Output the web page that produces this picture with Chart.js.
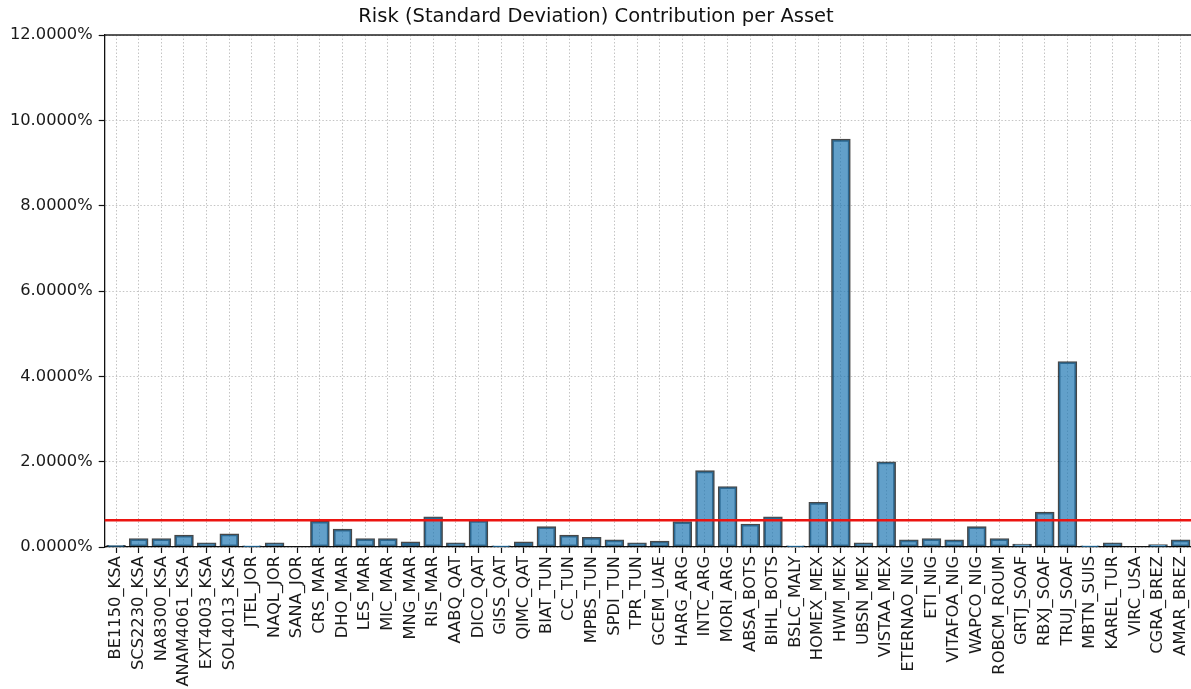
<!DOCTYPE html>
<html>
<head>
<meta charset="utf-8">
<title>Risk Contribution per Asset</title>
<script src="https://cdn.jsdelivr.net/npm/chart.js@4/dist/chart.umd.min.js"></script>
<style>
  html, body { margin: 0; padding: 0; background: #ffffff; overflow: hidden; }
  #wrap { position: relative; width: 1192px; height: 689px; }
</style>
</head>
<body>
<div id="wrap"><canvas id="chart" width="1192" height="689"></canvas></div>
<script>
// Assets in portfolio order
const assets = [
  'BE1150_KSA', 'SCS2230_KSA', 'NA8300_KSA', 'ANAM4061_KSA', 'EXT4003_KSA', 'SOL4013_KSA',
  'JTEL_JOR', 'NAQL_JOR', 'SANA_JOR',
  'CRS_MAR', 'DHO_MAR', 'LES_MAR', 'MIC_MAR', 'MNG_MAR', 'RIS_MAR',
  'AABQ_QAT', 'DICO_QAT', 'GISS_QAT', 'QIMC_QAT',
  'BIAT_TUN', 'CC_TUN', 'MPBS_TUN', 'SPDI_TUN', 'TPR_TUN',
  'GCEM_UAE', 'HARG_ARG', 'INTC_ARG', 'MORI_ARG',
  'ABSA_BOTS', 'BIHL_BOTS', 'BSLC_MALY',
  'HOMEX_MEX', 'HWM_MEX', 'UBSN_MEX', 'VISTAA_MEX',
  'ETERNAO_NIG', 'ETI_NIG', 'VITAFOA_NIG', 'WAPCO_NIG',
  'ROBCM_ROUM', 'GRTJ_SOAF', 'RBXJ_SOAF', 'TRUJ_SOAF',
  'MBTN_SUIS', 'KAREL_TUR', 'VIRC_USA', 'CGRA_BREZ', 'AMAR_BREZ'
];

// Contribution of each asset to portfolio standard deviation, in percent
const riskContribution = [
  0.03, 0.19, 0.19, 0.27, 0.09, 0.30,
  0.02, 0.09, 0.00,
  0.60, 0.41, 0.19, 0.19, 0.11, 0.70,
  0.09, 0.62, 0.02, 0.11,
  0.47, 0.27, 0.22, 0.16, 0.09,
  0.13, 0.59, 1.78, 1.41,
  0.53, 0.70, 0.02,
  1.04, 9.55, 0.09, 1.99,
  0.16, 0.19, 0.16, 0.47,
  0.19, 0.06, 0.81, 4.34,
  0.02, 0.09, 0.00, 0.05, 0.16
];

// Equal-risk reference level, in percent
const equalRiskLevel = 0.625;

// Y axis tick values, in percent
const yTickValues = [0, 2, 4, 6, 8, 10, 12];

Chart.defaults.font.family = "'DejaVu Sans', sans-serif";
Chart.defaults.color = '#1a1a1a';

// Horizontal reference line across the full plot width
const referenceLine = {
  id: 'referenceLine',
  afterDatasetsDraw(chart) {
    const { ctx, chartArea, scales } = chart;
    const y = scales.y.getPixelForValue(equalRiskLevel);
    ctx.save();
    ctx.beginPath();
    ctx.moveTo(chartArea.left, y);
    ctx.lineTo(chartArea.right, y);
    ctx.lineWidth = 2.5;
    ctx.strokeStyle = '#ec1410';
    ctx.stroke();
    ctx.restore();
  }
};

// Top frame line of the axes box
const topFrame = {
  id: 'topFrame',
  afterDraw(chart) {
    const { ctx, chartArea } = chart;
    ctx.save();
    ctx.beginPath();
    ctx.moveTo(chartArea.left, chartArea.top);
    ctx.lineTo(chartArea.right, chartArea.top);
    ctx.lineWidth = 1.3;
    ctx.strokeStyle = '#222';
    ctx.stroke();
    ctx.restore();
  }
};

new Chart(document.getElementById('chart'), {
  type: 'bar',
  data: {
    labels: assets,
    datasets: [{
      label: 'Risk contribution',
      data: riskContribution,
      backgroundColor: 'rgba(31, 119, 180, 0.7)',
      borderColor: 'rgba(0, 0, 0, 0.72)',
      borderWidth: 1.4,
      borderSkipped: false,
      inflateAmount: 0.7,
      barPercentage: 0.8,
      categoryPercentage: 1.0
    }]
  },
  options: {
    responsive: false,
    animation: false,
    layout: { padding: 0 },
    plugins: {
      legend: { display: false },
      tooltip: { enabled: false },
      title: {
        display: true,
        text: 'Risk (Standard Deviation) Contribution per Asset',
        color: '#111',
        font: { size: 19.5, weight: 'normal' },
        padding: { top: 5, bottom: 6.6 }
      }
    },
    scales: {
      x: {
        offset: true,
        grid: {
          offset: false,
          color: '#c4c4c4',
          lineWidth: 1,
          tickColor: '#111',
          tickLength: 6,
          tickWidth: 1.2
        },
        border: { color: '#111', width: 1.3, dash: [1.5, 2] },
        ticks: {
          autoSkip: false,
          minRotation: 90,
          maxRotation: 90,
          padding: 3,
          color: '#1a1a1a',
          font: { size: 16.3 }
        },
        afterFit(scale) {
          scale.height = 142;
          scale.paddingLeft = 0;
          scale.paddingRight = 0;
        }
      },
      y: {
        min: 0,
        max: 12,
        afterBuildTicks(scale) {
          scale.ticks = yTickValues.map(v => ({ value: v }));
        },
        grid: {
          color: '#c4c4c4',
          lineWidth: 1,
          tickColor: '#111',
          tickLength: 6,
          tickWidth: 1.2
        },
        border: { color: '#111', width: 1.3, dash: [1.5, 2] },
        ticks: {
          padding: 6,
          color: '#1a1a1a',
          font: { size: 16.3 },
          callback: v => Number(v).toFixed(4) + '%'
        },
        afterFit(scale) { scale.width = 104.7; }
      }
    }
  },
  plugins: [referenceLine, topFrame]
});
</script>
</body>
</html>
